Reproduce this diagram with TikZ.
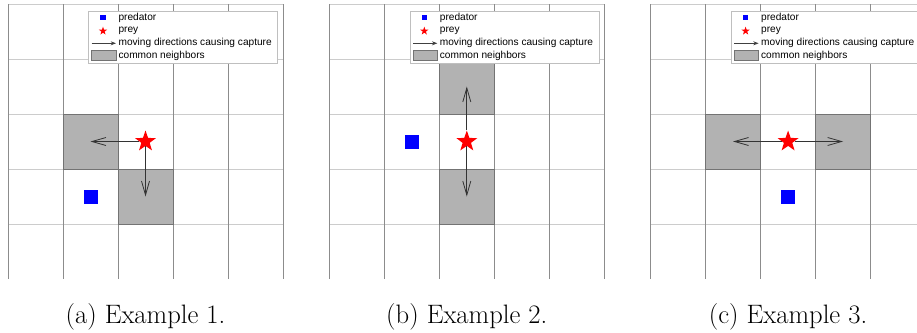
\documentclass[tikz,border=0pt]{standalone}
\usepackage{fontspec}
\newfontfamily\legendfont{Liberation Sans}
\usetikzlibrary{shapes.geometric,arrows.meta}

\tikzset{
    vline/.style={black!45, line width=0.6pt},
    hline/.style={black!20, line width=0.6pt},
    common/.style={fill=black!30, draw=black!55, line width=0.5pt},
    prey/.style={star, star points=5, star point ratio=2.5, fill=red, draw=none, inner sep=0pt, minimum size=16.5pt},
    predator/.style={rectangle, fill=blue, draw=none, inner sep=0pt, minimum size=10.5pt},
    move/.style={black!80, line width=0.6pt, -{Straight Barb[length=10.5pt, width=6pt]}},
    legbox/.style={rectangle, draw=black!25, fill=white, line width=0.5pt, inner sep=0pt,
        anchor=north west, minimum width=141.75pt, minimum height=39pt},
    legtext/.style={font=\legendfont\fontsize{7.6}{8}\selectfont, anchor=west, inner sep=0pt},
    caption/.style={font=\fontsize{20}{22}\selectfont, anchor=base}
}

\begin{document}
\begin{tikzpicture}[x=0.75pt, y=-0.75pt]
    \useasboundingbox (0,0) rectangle (917,332);
    \clip (0,0) rectangle (917,332);

    % grids of the three examples
    \foreach \px/\tag in {8/a, 329.3/b, 650.6/c} {
        \foreach \j in {0,...,4}
            \draw[hline] (\px,{4+55*\j}) -- ({\px+275},{4+55*\j});
        \foreach \i in {0,...,5}
            \draw[vline] ({\px+55*\i},4) -- ({\px+55*\i},279);
    }

    % example 1
    \draw[common] (63,114) rectangle (118,169);
    \draw[common] (118,169) rectangle (173,224);
    \coordinate (leftA) at (90.5,141.5);
    \coordinate (downA) at (145.5,196.5);
    \node[prey] (preyA) at (145.5,141.5) {};
    \draw[move] (preyA) -- (leftA);
    \draw[move] (preyA) -- (downA);
    \node[predator] (predA) at (90.5,196.5) {};

    % example 2
    \draw[common] (439.3,59) rectangle (494.3,114);
    \draw[common] (439.3,169) rectangle (494.3,224);
    \coordinate (upB) at (466.8,86.5);
    \coordinate (downB) at (466.8,196.5);
    \node[prey] (preyB) at (466.8,141.5) {};
    \draw[move] (preyB) -- (upB);
    \draw[move] (preyB) -- (downB);
    \node[predator] (predB) at (411.8,141.5) {};

    % example 3
    \draw[common] (705.6,114) rectangle (760.6,169);
    \draw[common] (815.6,114) rectangle (870.6,169);
    \coordinate (leftC) at (733.1,141.5);
    \coordinate (rightC) at (843.1,141.5);
    \node[prey] (preyC) at (788.1,141.5) {};
    \draw[move] (preyC) -- (leftC);
    \draw[move] (preyC) -- (rightC);
    \node[predator] (predC) at (788.1,196.5) {};

    % legends and captions
    \foreach \px/\tag/\num in {8/a/1, 329.3/b/2, 650.6/c/3} {
        \node[legbox] (leg-\tag) at ({\px+80.3},10.7) {};
        \node[predator, minimum size=3.8pt] (legpred-\tag) at ({\px+95},17.5) {};
        \node[prey, minimum size=6.5pt] (legprey-\tag) at ({\px+95},31) {};
        \draw[black!75, line width=0.6pt, -{Stealth[length=4pt, width=3pt]}] ({\px+83.7},43.3) -- ({\px+108},43.3);
        \draw[common] ({\px+83.7},50.7) rectangle ({\px+108},60.5);
        \node[legtext] (t1-\tag) at ({\px+110.3},17.5) {predator};
        \node[legtext] (t2-\tag) at ({\px+110.3},30.5) {prey};
        \node[legtext] (t3-\tag) at ({\px+110.3},43.3) {moving directions causing capture};
        \node[legtext] (t4-\tag) at ({\px+110.3},55.8) {common neighbors};
        \node[caption] (cap-\tag) at ({\px+137.5},323) {(\tag) Example \num.};
    }
\end{tikzpicture}
\end{document}
